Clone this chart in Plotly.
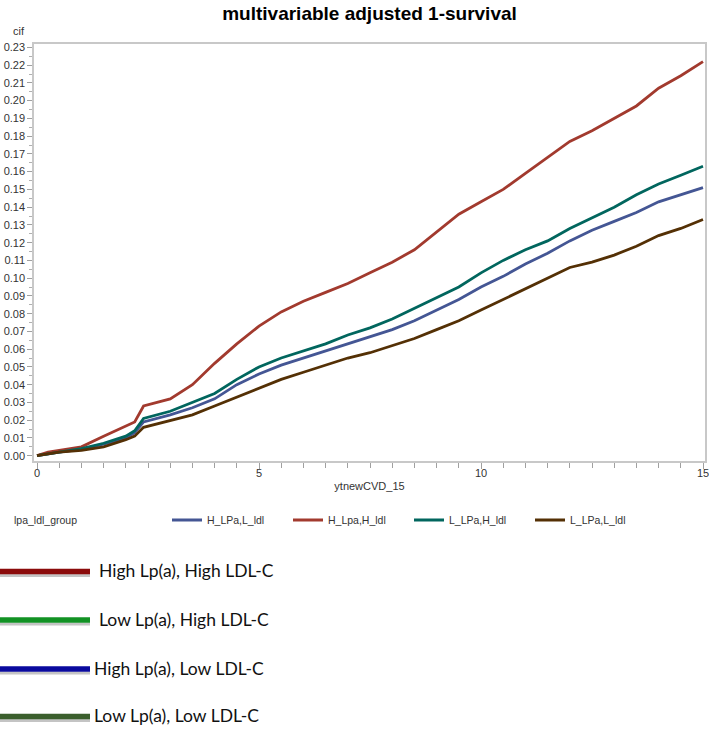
import plotly.graph_objects as go

# ---- data ----
time_years = [0, 0.25, 0.5, 1, 1.5, 2, 2.2, 2.4, 3, 3.5, 4, 4.5, 5, 5.5, 6, 6.5, 7, 7.5,
              8, 8.5, 9, 9.5, 10, 10.5, 11, 11.5, 12, 12.5, 13, 13.5, 14, 14.5, 15]

cif_H_LPa_L_ldl = [0, 0.001, 0.002, 0.0035, 0.0065, 0.010, 0.013, 0.019, 0.023, 0.027, 0.032,
                   0.040, 0.046, 0.051, 0.055, 0.059, 0.063, 0.067, 0.071, 0.076, 0.082, 0.088,
                   0.095, 0.101, 0.108, 0.114, 0.121, 0.127, 0.132, 0.137, 0.143, 0.147, 0.151]
cif_H_Lpa_H_ldl = [0, 0.002, 0.003, 0.005, 0.011, 0.017, 0.019, 0.028, 0.032, 0.040, 0.052,
                   0.063, 0.073, 0.081, 0.087, 0.092, 0.097, 0.103, 0.109, 0.116, 0.126, 0.136,
                   0.143, 0.150, 0.159, 0.168, 0.177, 0.183, 0.190, 0.197, 0.207, 0.214, 0.222]
cif_L_LPa_H_ldl = [0, 0.001, 0.002, 0.004, 0.007, 0.011, 0.014, 0.021, 0.025, 0.030, 0.035,
                   0.043, 0.050, 0.055, 0.059, 0.063, 0.068, 0.072, 0.077, 0.083, 0.089, 0.095,
                   0.103, 0.110, 0.116, 0.121, 0.128, 0.134, 0.140, 0.147, 0.153, 0.158, 0.163]
cif_L_LPa_L_ldl = [0, 0.001, 0.002, 0.003, 0.005, 0.009, 0.011, 0.016, 0.020, 0.023, 0.028,
                   0.033, 0.038, 0.043, 0.047, 0.051, 0.055, 0.058, 0.062, 0.066, 0.071, 0.076,
                   0.082, 0.088, 0.094, 0.100, 0.106, 0.109, 0.113, 0.118, 0.124, 0.128, 0.133]

group_names = ["H_LPa,L_ldl", "H_Lpa,H_ldl", "L_LPa,H_ldl", "L_LPa,L_ldl"]
group_colors = ["#445694", "#A23A2E", "#01665E", "#543005"]

y_tick_vals = [i / 100 for i in range(0, 24)]
y_tick_text = ["%.2f" % v for v in y_tick_vals]
x_tick_vals = [0, 5, 10, 15]

extra_labels = ["High Lp(a), High LDL-C", "Low Lp(a), High LDL-C",
                "High Lp(a), Low LDL-C", "Low Lp(a), Low LDL-C"]
extra_colors = ["#8B0B0B", "#129224", "#0A0A9E", "#3B5F2D"]

# ---- figure ----
W, H = 709, 730
ML, MR, MT, MB = 34, 4, 44, 269
PW, PH = W - ML - MR, H - MT - MB


def px(x):
    return (x - ML) / PW


def py(y):
    return (H - MB - y) / PH


FONT = "Liberation Sans, Arial, sans-serif"
TXT = "#333333"

fig = go.Figure()
series = [cif_H_LPa_L_ldl, cif_H_Lpa_H_ldl, cif_L_LPa_H_ldl, cif_L_LPa_L_ldl]
for name, col, vals in zip(group_names, group_colors, series):
    fig.add_trace(go.Scatter(x=time_years, y=vals, mode="lines", name=name,
                             line=dict(color=col, width=2.8)))

fig.update_layout(
    width=W, height=H,
    margin=dict(l=ML, r=MR, t=MT, b=MB, autoexpand=False),
    paper_bgcolor="white", plot_bgcolor="white",
    font=dict(family=FONT, size=11, color=TXT),
    title=dict(text="<b>multivariable adjusted 1-survival</b>", x=369.5 / W, xanchor="center",
               xref="container", y=1 - 13 / H, yanchor="middle",
               font=dict(size=19, color="#000000", family=FONT)),
    showlegend=True,
    legend=dict(orientation="h", x=px(167), xanchor="left", y=py(520), yanchor="middle",
                font=dict(size=10.5, color=TXT), entrywidth=76, entrywidthmode="pixels",
                bgcolor="rgba(0,0,0,0)", tracegroupgap=0),
    xaxis=dict(range=[-0.068, 15.045], tickvals=x_tick_vals, ticks="outside", ticklen=6,
               tickcolor="#a0a0a0", showline=True, linecolor="#c8c8c8", linewidth=1.5, mirror=True,
               showgrid=False, zeroline=False, tickfont=dict(size=11, color=TXT), automargin=False,
               ticklabeloverflow="allow", ticklabelstandoff=-5,
               minor=dict(dtick=0.5, ticks="outside", ticklen=5, tickcolor="#a0a0a0", showgrid=False),
               title=dict(text="ytnewCVD_15", font=dict(size=11, color=TXT), standoff=4)),
    yaxis=dict(range=[-0.003, 0.2319], tickvals=y_tick_vals, ticktext=y_tick_text, ticks="outside",
               ticklen=5, tickcolor="#a0a0a0", showline=True, linecolor="#c8c8c8", linewidth=1.5,
               mirror=True, showgrid=False, zeroline=False, tickfont=dict(size=11, color=TXT),
               automargin=False, ticklabeloverflow="allow",
               minor=dict(dtick=0.005, ticks="outside", ticklen=3, tickcolor="#b0b0b0", showgrid=False)),
)

annotations = [
    dict(text="cif", x=px(27), y=py(31), xref="paper", yref="paper", xanchor="right",
         yanchor="middle", showarrow=False, font=dict(size=11, color=TXT)),
    dict(text="lpa_ldl_group", x=px(12), y=py(520), xref="paper", yref="paper", xanchor="left",
         yanchor="middle", showarrow=False, font=dict(size=10.5, color=TXT)),
]
shapes = []
rows_y = [571.5, 620, 669, 716.5]
text_x = [97, 97, 92, 92]
for lab, col, yy, tx in zip(extra_labels, extra_colors, rows_y, text_x):
    shapes.append(dict(type="line", xref="paper", yref="paper", x0=px(0), x1=px(90),
                       y0=py(yy + 4), y1=py(yy + 4), line=dict(color="#c4c4c4", width=3)))
    shapes.append(dict(type="line", xref="paper", yref="paper", x0=px(0), x1=px(90),
                       y0=py(yy), y1=py(yy), line=dict(color=col, width=5.5)))
    annotations.append(dict(text=lab, x=px(tx), y=py(yy - 1), xref="paper", yref="paper",
                            xanchor="left", yanchor="middle", showarrow=False,
                            font=dict(size=17.5, color="#111111", family="Lato, Open Sans, sans-serif")))

fig.update_layout(annotations=annotations, shapes=shapes)
fig.write_html("out.html", config={"displayModeBar": False},
               post_script="document.body.style.margin='0';document.body.style.overflow='hidden';")
